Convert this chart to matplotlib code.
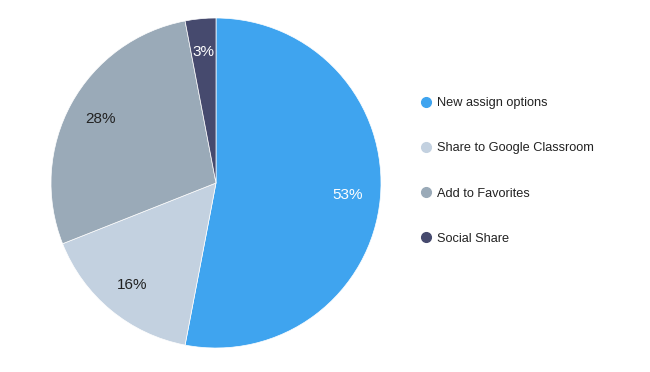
import matplotlib
matplotlib.use("Agg")
import matplotlib.pyplot as plt
from matplotlib.lines import Line2D

plt.rcParams['font.family'] = ['Liberation Sans', 'DejaVu Sans']

# datos del grafico
categorias = ["New assign options", "Share to Google Classroom", "Add to Favorites", "Social Share"]
valores = [53, 16, 28, 3]
colores = ["#3fa4ef", "#c3d1e0", "#9aaab8", "#464a6e"]
color_texto = ["white", "#222222", "#222222", "white"]

fig = plt.figure(figsize=(6.5, 3.72), dpi=100)
# pie centrado en (216,183) px con radio 165 px
ax = fig.add_axes([51/650, 24/372, 330/650, 330/372])

wedges, textos, autotextos = ax.pie(valores, colors=colores, startangle=90, counterclock=False,
                                    autopct='%.0f%%', pctdistance=0.8, radius=1,
                                    wedgeprops=dict(linewidth=0.5, edgecolor='white'))
for t, c in zip(autotextos, color_texto):
    t.set_color(c)
    t.set_fontsize(11)
    t.set_fontweight('medium')
ax.set_xlim(-1, 1)
ax.set_ylim(-1, 1)
ax.set_aspect('equal')

# leyenda
handles = [Line2D([0], [0], marker='o', linestyle='', markersize=7,
                  markerfacecolor=c, markeredgecolor=c) for c in colores]
leg = fig.legend(handles, categorias, loc='upper left', bbox_to_anchor=(413/650, 1 - 92/372),
                 frameon=False, fontsize=9.2, labelspacing=2.6, handletextpad=0.3,
                 handlelength=1.2, borderaxespad=0)
for t in leg.get_texts():
    t.set_color("#222222")

fig.savefig("out.png", dpi=100)
